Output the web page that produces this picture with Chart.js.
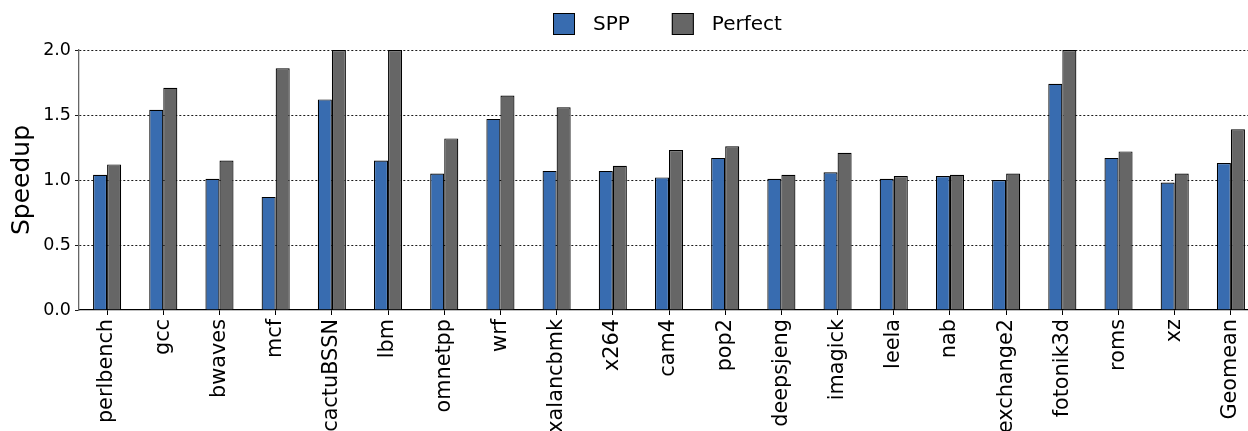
<!DOCTYPE html>
<html>
<head>
<meta charset="utf-8">
<script src="https://cdn.jsdelivr.net/npm/chart.js@4"></script>
<style>
  html, body { margin: 0; padding: 0; overflow: hidden; background: #fff; }
  #wrap { width: 1260px; height: 470px; }
</style>
</head>
<body>
<div id="wrap"><canvas id="speedupChart" width="1260" height="470"></canvas></div>
<script>
const benchmarks = ['perlbench', 'gcc', 'bwaves', 'mcf', 'cactuBSSN', 'lbm', 'omnetpp', 'wrf',
    'xalancbmk', 'x264', 'cam4', 'pop2', 'deepsjeng', 'imagick', 'leela', 'nab',
    'exchange2', 'fotonik3d', 'roms', 'xz', 'Geomean'];
const sppSpeedup = [1.04, 1.54, 1.01, 0.87, 1.62, 1.15, 1.05, 1.47, 1.07, 1.07, 1.02,
    1.17, 1.01, 1.06, 1.01, 1.03, 1.00, 1.74, 1.17, 0.98, 1.13];
const perfectSpeedup = [1.12, 1.71, 1.15, 1.86, 2.0, 2.0, 1.32, 1.65, 1.56, 1.11, 1.23,
    1.26, 1.04, 1.21, 1.03, 1.04, 1.05, 2.0, 1.22, 1.05, 1.39];
const yTicks = [0, 0.5, 1.0, 1.5, 2.0];

const FONT = 'DejaVu Sans';

// legend drawn above the plot, centred on the axes area
const topLegend = {
    id: 'topLegend',
    afterDraw(chart) {
        const ctx = chart.ctx;
        const box = 22, gap = 18, spacing = 42;
        ctx.save();
        ctx.font = '20px "' + FONT + '"';
        const items = chart.data.datasets.map(ds => ({
            text: ds.label, fill: ds.backgroundColor, width: ctx.measureText(ds.label).width
        }));
        let total = 0;
        items.forEach((it, i) => { total += box + gap + it.width + (i ? spacing : 0); });
        const mid = (chart.chartArea.left + chart.chartArea.right) / 2;
        let x = Math.round(mid - total / 2) - 2;
        const y = 13;
        items.forEach(it => {
            ctx.fillStyle = it.fill;
            ctx.fillRect(x, y, box, box);
            ctx.strokeStyle = '#000';
            ctx.lineWidth = 1;
            ctx.strokeRect(x + 0.5, y + 0.5, box - 1, box - 1);
            ctx.fillStyle = '#000';
            ctx.textBaseline = 'middle';
            ctx.fillText(it.text, x + box + gap, y + box / 2 + 1);
            x += box + gap + it.width + spacing;
        });
        ctx.restore();
    }
};

const ctx = document.getElementById('speedupChart').getContext('2d');

const speedupChart = new Chart(ctx, {
    type: 'bar',
    data: {
        labels: benchmarks,
        datasets: [{
            label: 'SPP',
            data: sppSpeedup,
            backgroundColor: '#386cb0',
            borderColor: '#000',
            borderWidth: 1.2,
        }, {
            label: 'Perfect',
            data: perfectSpeedup,
            backgroundColor: '#666666',
            borderColor: '#000',
            borderWidth: 1.2,
        }]
    },
    options: {
        responsive: false,
        animation: false,
        devicePixelRatio: 1,
        layout: { padding: { top: 50, right: 1, left: 0, bottom: 0 } },
        datasets: {
            bar: { categoryPercentage: 0.5, barPercentage: 1.0 }
        },
        scales: {
            x: {
                offset: true,
                z: 1,
                afterFit: s => { s.height = 160; },
                border: { color: '#000', width: 1.3 },
                grid: {
                    offset: false,
                    drawOnChartArea: false,
                    color: '#000',
                    tickLength: 5,
                    tickWidth: 1,
                },
                ticks: {
                    autoSkip: false,
                    minRotation: 90,
                    maxRotation: 90,
                    padding: 4,
                    color: '#000',
                    font: { family: FONT, size: 20.8 },
                }
            },
            y: {
                min: 0,
                max: 2,
                z: 1,
                afterFit: s => { s.width = 79; },
                afterBuildTicks: s => { s.ticks = yTicks.map(v => ({ value: v })); },
                border: { color: '#666', width: 1.3, dash: [2, 2] },
                grid: {
                    color: c => (c.tick && c.tick.value === 0) ? 'rgba(0,0,0,0)' : '#000',
                    lineWidth: 0.9,
                    tickColor: '#000',
                    tickLength: 4,
                    tickBorderDash: [],
                },
                ticks: {
                    padding: 4,
                    color: '#000',
                    font: { family: FONT, size: 17.5 },
                    callback: v => Number(v).toFixed(1),
                },
                title: {
                    display: true,
                    text: 'Speedup',
                    color: '#000',
                    padding: { top: 7, bottom: 4 },
                    font: { family: FONT, size: 25 },
                }
            }
        },
        plugins: {
            legend: { display: false },
            tooltip: { enabled: false },
        }
    },
    plugins: [topLegend]
});
</script>
</body>
</html>
